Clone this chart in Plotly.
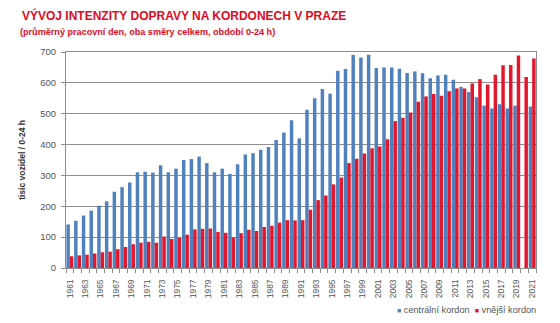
import plotly.graph_objects as go

# Traffic volumes on Prague cordons, average working day, both directions (thousand vehicles / 0-24 h)
years = list(range(1961, 2022))

central = [141, 153, 170, 186, 202, 216, 247, 262, 277, 310,
           312, 309, 333, 310, 322, 350, 353, 361, 340, 310,
           322, 305, 336, 368, 372, 383, 392, 415, 439, 479,
           420, 513, 550, 580, 565, 639, 645, 691, 682, 691,
           648, 650, 650, 646, 632, 637, 631, 615, 624, 626,
           610, 587, 570, 553, 526, 517, 531, 517, 526, None,
           523]

outer = [38, 41, 43, 47, 51, 53, 61, 68, 77, 82,
         85, 82, 102, 94, 98, 108, 125, 127, 128, 117,
         114, 99, 113, 124, 120, 133, 137, 147, 155, 154,
         155, 189, 220, 235, 271, 293, 340, 354, 371, 388,
         394, 417, 476, 487, 504, 539, 556, 564, 558, 573,
         582, 582, 598, 612, 595, 626, 657, 658, 689, 619,
         679]

tick_years = [y for y in years if y % 2 == 1]
tick_labels = [str(y) for y in tick_years]

BLUE = "#4F81BD"
RED = "#E3162D"
TITLE_RED = "#E30A1E"
GRID = "#8E8E8E"
TEXT = "#555555"

fig = go.Figure()
fig.add_trace(go.Bar(x=years, y=central, name="centrální kordon",
                     marker=dict(color=BLUE, line=dict(width=0))))
fig.add_trace(go.Bar(x=years, y=outer, name="vnější kordon",
                     marker=dict(color=RED, line=dict(width=0))))

fig.update_layout(
    width=560, height=323,
    margin=dict(l=66, r=24, t=52, b=55),
    paper_bgcolor="white", plot_bgcolor="white",
    barmode="group", bargap=0.1, bargroupgap=0.0,
    showlegend=False,
    font=dict(family="Liberation Sans, Arial, sans-serif", size=9, color=TEXT),
)

fig.update_xaxes(
    range=[1960.5, 2021.5],
    tickmode="array", tickvals=tick_years, ticktext=tick_labels,
    tickangle=-90, tickfont=dict(size=8.5, color=TEXT),
    ticks="", ticklabelstandoff=7, showgrid=False,
    showline=True, linecolor=GRID, linewidth=1, mirror=True,
    minor=dict(tickmode="array", tickvals=[y - 0.5 for y in years] + [2021.5],
               ticks="outside", ticklen=4, tickcolor=GRID, showgrid=False),
)

fig.update_yaxes(
    range=[0, 700], dtick=100,
    showgrid=True, gridcolor=GRID, gridwidth=1,
    showline=True, linecolor=GRID, linewidth=1, mirror=True,
    ticks="outside", ticklen=4, tickcolor=GRID, ticklabelstandoff=3,
    tickfont=dict(size=9.5, color=TEXT), zeroline=False,
)

annotations = [
    dict(text="<b>VÝVOJ INTENZITY DOPRAVY NA KORDONECH V PRAZE</b>",
         x=-0.098, y=1.171, xanchor="left", yanchor="middle",
         font=dict(family="Liberation Sans Narrow, Arial Narrow, Liberation Sans, sans-serif",
                   size=12, color=TITLE_RED)),
    dict(text="<b>(průměrný pracovní den, oba směry celkem, období 0-24 h)</b>",
         x=-0.102, y=1.092, xanchor="left", yanchor="middle",
         font=dict(family="Liberation Sans Narrow, Arial Narrow, Liberation Sans, sans-serif",
                   size=9.1, color=TITLE_RED)),
    dict(text="<b>tisíc vozidel / 0-24 h</b>", textangle=-90,
         x=-0.094, y=0.5, xanchor="center", yanchor="middle",
         font=dict(size=8.5, color="#333333")),
    dict(text=f"<span style='color:{BLUE};font-size:7px'>■</span> centrální kordon  "
              f"<span style='color:{RED};font-size:7px'>■</span> vnější kordon",
         x=1.005, y=-0.195, xanchor="right", yanchor="middle",
         font=dict(size=9.2, color=TEXT)),
]
for a in annotations:
    a.update(xref="paper", yref="paper", showarrow=False)
fig.update_layout(annotations=annotations)

fig.write_html("out.html")
